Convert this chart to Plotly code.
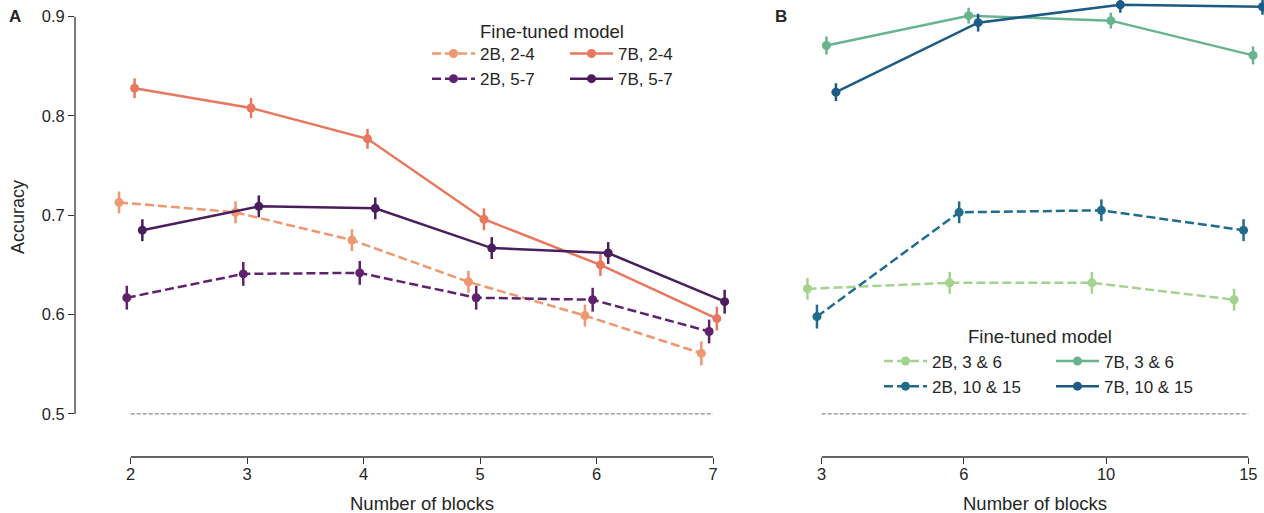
import plotly.graph_objects as go

# ---------------- data ----------------
blocks_a = [2, 3, 4, 5, 6, 7]
acc_2b_24 = [0.713, 0.703, 0.675, 0.633, 0.599, 0.561]
err_2b_24 = [0.011, 0.011, 0.011, 0.011, 0.011, 0.012]
acc_2b_57 = [0.617, 0.641, 0.642, 0.617, 0.615, 0.583]
err_2b_57 = [0.012, 0.012, 0.012, 0.012, 0.012, 0.012]
acc_7b_24 = [0.828, 0.808, 0.777, 0.696, 0.650, 0.596]
err_7b_24 = [0.010, 0.010, 0.010, 0.011, 0.011, 0.012]
acc_7b_57 = [0.685, 0.709, 0.707, 0.667, 0.662, 0.613]
err_7b_57 = [0.011, 0.011, 0.011, 0.011, 0.011, 0.012]

blocks_b = ["3", "6", "10", "15"]
acc_2b_36 = [0.626, 0.632, 0.632, 0.615]
err_2b_36 = [0.011, 0.011, 0.011, 0.011]
acc_2b_1015 = [0.598, 0.703, 0.705, 0.685]
err_2b_1015 = [0.012, 0.011, 0.011, 0.011]
acc_7b_36 = [0.871, 0.901, 0.896, 0.861]
err_7b_36 = [0.009, 0.008, 0.008, 0.009]
acc_7b_1015 = [0.824, 0.894, 0.912, 0.910]
err_7b_1015 = [0.009, 0.009, 0.008, 0.008]

chance = 0.5
dodge = [-0.1, -1 / 30, 1 / 30, 0.1]

C_2B24 = "#EE9871"
C_7B24 = "#E8775D"
C_2B57 = "#5F236E"
C_7B57 = "#4A1D5C"
C_2B36 = "#A3D38E"
C_7B36 = "#67B48E"
C_2B1015 = "#216B8D"
C_7B1015 = "#1C5B85"

FONT = "Liberation Sans, Arial, Helvetica, sans-serif"
TXT = "#262626"

fig = go.Figure()


def add(xs, ys, errs, name, color, dash, xaxis, legend, rank):
    fig.add_trace(go.Scatter(
        x=xs, y=ys, mode="lines+markers", name=name,
        line=dict(color=color, width=2.5, dash=dash),
        marker=dict(color=color, size=9),
        error_y=dict(type="data", array=errs, visible=True, color=color,
                     thickness=2.5, width=0),
        xaxis=xaxis, yaxis="y", legend=legend, legendrank=rank,
        cliponaxis=False))


DASH = "9px,4px"
# Panel A
add([b + dodge[0] for b in blocks_a], acc_2b_24, err_2b_24, "2B, 2-4", C_2B24, DASH, "x", "legend", 1)
add([b + dodge[1] for b in blocks_a], acc_2b_57, err_2b_57, "2B, 5-7", C_2B57, DASH, "x", "legend", 2)
add([b + dodge[2] for b in blocks_a], acc_7b_24, err_7b_24, "7B, 2-4", C_7B24, "solid", "x", "legend2", 3)
add([b + dodge[3] for b in blocks_a], acc_7b_57, err_7b_57, "7B, 5-7", C_7B57, "solid", "x", "legend2", 4)
# Panel B
idx_b = list(range(len(blocks_b)))
add([i + dodge[0] for i in idx_b], acc_2b_36, err_2b_36, "2B, 3 & 6", C_2B36, DASH, "x2", "legend3", 5)
add([i + dodge[1] for i in idx_b], acc_2b_1015, err_2b_1015, "2B, 10 & 15", C_2B1015, DASH, "x2", "legend3", 6)
add([i + dodge[2] for i in idx_b], acc_7b_36, err_7b_36, "7B, 3 & 6", C_7B36, "solid", "x2", "legend4", 7)
add([i + dodge[3] for i in idx_b], acc_7b_1015, err_7b_1015, "7B, 10 & 15", C_7B1015, "solid", "x2", "legend4", 8)

# chance lines
fig.add_trace(go.Scatter(x=[blocks_a[0], blocks_a[-1]], y=[chance, chance], mode="lines",
                         line=dict(color="#8a8a8a", width=1.3, dash="4px,2px"),
                         showlegend=False, xaxis="x", yaxis="y", hoverinfo="skip"))
fig.add_trace(go.Scatter(x=[idx_b[0], idx_b[-1]], y=[chance, chance], mode="lines",
                         line=dict(color="#8a8a8a", width=1.3, dash="4px,2px"),
                         showlegend=False, xaxis="x2", yaxis="y", hoverinfo="skip"))

# the page's body margin is removed by a post script, so the figure sits at (0, 0)
OFF = 0
W, H = 1264 - OFF, 513 - OFF
ML, MR, MT, MB = 75 - OFF, 0, 0, 56
PW, PH = W - ML - MR, H - MT - MB


def px(xr):  # reference window pixel -> paper x
    return (xr - OFF - ML) / PW


def py(yr):  # reference window pixel -> paper y
    return (H - MB - (yr - OFF)) / PH


axis_common = dict(showgrid=False, zeroline=False, showline=False, ticks="outside",
                   ticklen=6, tickwidth=1.3, tickcolor="#333",
                   tickfont=dict(size=16.5, color=TXT, family=FONT))

legend_common = dict(xanchor="left", yanchor="top", bgcolor="rgba(0,0,0,0)",
                     itemwidth=43, font=dict(size=17, color=TXT, family=FONT),
                     orientation="v", tracegroupgap=0)

fig.update_layout(
    width=W, height=H,
    margin=dict(l=ML, r=MR, t=MT, b=MB, autoexpand=False),
    paper_bgcolor="white", plot_bgcolor="white",
    font=dict(family=FONT, size=17, color=TXT),
    xaxis=dict(domain=[0, px(765)], range=[1.5217, 7.4465], tickvals=blocks_a,
               anchor="y", ticklabelstandoff=-4, **axis_common),
    xaxis2=dict(domain=[px(790), 1], range=[-0.2229, 3.1104], tickvals=idx_b,
                ticktext=blocks_b, anchor="y", ticklabelstandoff=-4, **axis_common),
    yaxis=dict(domain=[0, 1], range=[0.4566, 0.9168], tickvals=[0.5, 0.6, 0.7, 0.8, 0.9],
               ticktext=["0.5", "0.6", "0.7", "0.8", "0.9"], anchor="x",
               ticklabeloverflow="allow", **axis_common),
    legend=dict(x=px(427), y=py(36), **legend_common),
    legend2=dict(x=px(565), y=py(36), **legend_common),
    legend3=dict(x=px(879), y=py(343.5), **legend_common),
    legend4=dict(x=px(1051), y=py(343.5), **legend_common),
    showlegend=True,
)

# trimmed spines
spine = dict(color="#333", width=1.3)
fig.add_shape(type="line", xref="x", yref="y domain", x0=blocks_a[0], x1=blocks_a[-1], y0=0, y1=0, line=spine)
fig.add_shape(type="line", xref="x2", yref="y domain", x0=idx_b[0], x1=idx_b[-1], y0=0, y1=0, line=spine)
fig.add_shape(type="line", xref="x domain", yref="y", x0=0, x1=0, y0=0.5, y1=0.9, line=spine)


def label(text, xr, yr, size, angle=0):
    return dict(text=text, x=px(xr), y=py(yr), xref="paper", yref="paper",
                xanchor="center", yanchor="middle", textangle=angle, showarrow=False,
                font=dict(size=size, color=TXT, family=FONT))


ann = [
    label("<b>A</b>", 15, 17, 17),
    label("<b>B</b>", 781, 17, 17),
    label("Accuracy", 18, 217, 18, -90),
    label("Number of blocks", 422, 503, 18.5),
    label("Number of blocks", 1035, 503, 18.5),
    label("Fine-tuned model", 552, 31.5, 18.5),
    label("Fine-tuned model", 1039.5, 336, 18.5),
]
fig.update_layout(annotations=ann)

fig.write_html("out.html",
               config={"displayModeBar": False},
               post_script="document.body.style.margin='0px';document.body.style.overflow='hidden';")
